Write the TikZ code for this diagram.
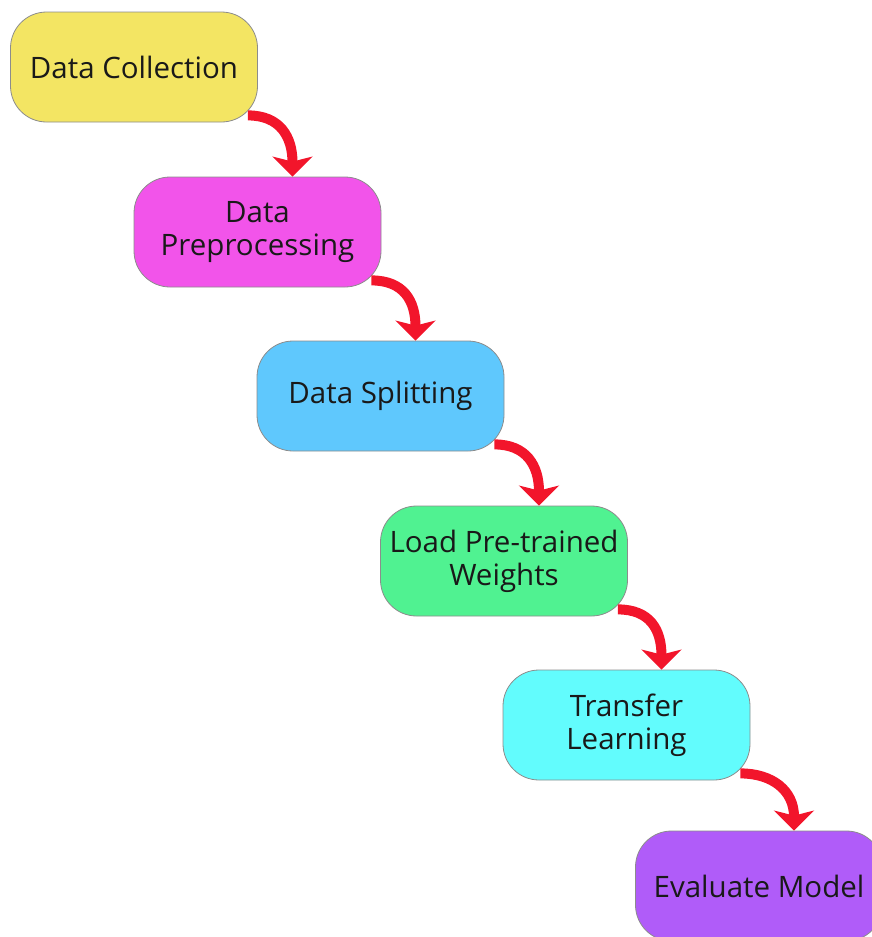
\documentclass[tikz,border=0pt]{standalone}
\usepackage{fontspec}
\setmainfont{Open Sans}
\usetikzlibrary{arrows.meta}
\usetikzlibrary{calc}

\definecolor{stepyellow}{HTML}{F3E563}
\definecolor{stepmagenta}{HTML}{F254EA}
\definecolor{stepblue}{HTML}{5FC8FD}
\definecolor{stepgreen}{HTML}{50F291}
\definecolor{stepcyan}{HTML}{62FCFD}
\definecolor{steppurple}{HTML}{B05CF9}
\definecolor{arrowred}{HTML}{F2152B}

\begin{document}
\begin{tikzpicture}[x=1pt,y=-1pt,
  stepbox/.style={draw=black!45,line width=0.8pt,rounded corners=36pt,
    minimum width=247pt,minimum height=110pt,align=center,
    font=\fontsize{29.5}{33}\selectfont,text=black!90},
  flow/.style={draw=arrowred,line width=10pt,
    -{Stealth[length=20pt,width=40pt,inset=5pt]}}]
\clip (0,0) rectangle (872,937);
\node[stepbox,fill=stepyellow] (A) at (134,67) {Data Collection};
\node[stepbox,fill=stepmagenta] (B) at (257.5,232) {Data\\Preprocessing};
\node[stepbox,fill=stepblue] (C) at (380.5,396) {Data Splitting};
\node[stepbox,fill=stepgreen] (D) at (504,561) {Load Pre-trained\\Weights};
\node[stepbox,fill=stepcyan] (E) at (626.5,725) {Transfer\\Learning};
\node[stepbox,fill=steppurple] (F) at (759,886) {Evaluate Model};

\draw[flow] ($(A.south east)+(-10,-7)$) .. controls +(32,0) and +(0,-40) .. ($(B.north)+(35,0)$);
\draw[flow] ($(B.south east)+(-10,-7)$) .. controls +(32,0) and +(0,-40) .. ($(C.north)+(35,0)$);
\draw[flow] ($(C.south east)+(-10,-7)$) .. controls +(32,0) and +(0,-40) .. ($(D.north)+(35,0)$);
\draw[flow] ($(D.south east)+(-10,-7)$) .. controls +(32,0) and +(0,-40) .. ($(E.north)+(35,0)$);
\draw[flow] ($(E.south east)+(-10,-7)$) .. controls +(32,0) and +(0,-40) .. ($(F.north)+(35,0)$);
\end{tikzpicture}
\end{document}
